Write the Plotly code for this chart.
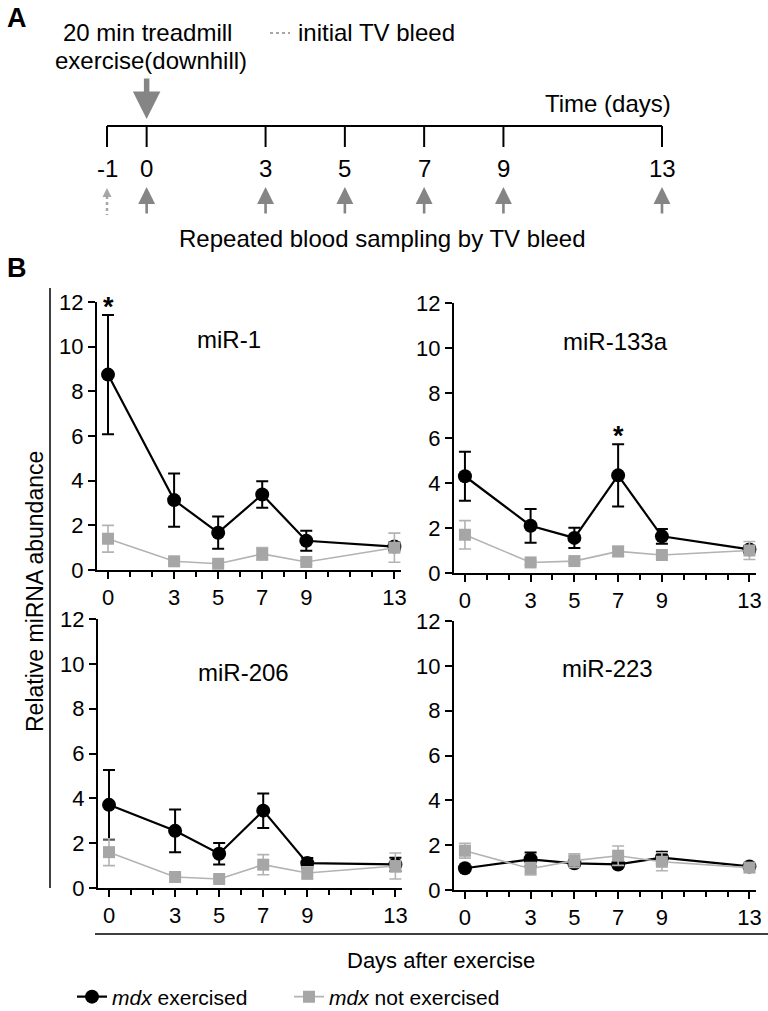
import plotly.graph_objects as go

# ---------------- data ----------------
days = [0, 3, 5, 7, 9, 13]
day_labels = ["0", "3", "5", "7", "9", "13"]
minor_days = list(range(0, 14))
y_ticks = [0, 2, 4, 6, 8, 10, 12]

timeline_days = [-1, 0, 3, 5, 7, 9, 13]
initial_bleed_day = -1
exercise_day = 0

panel_names = ["miR-1", "miR-133a", "miR-206", "miR-223"]

mir1_ex = [8.75, 3.13, 1.67, 3.38, 1.31, 1.05]
mir1_ex_err = [2.67, 1.19, 0.72, 0.59, 0.45, 0.18]
mir1_nex = [1.40, 0.39, 0.28, 0.72, 0.36, 1.00]
mir1_nex_err = [0.60, 0.10, 0.08, 0.28, 0.10, 0.65]

mir133a_ex = [4.30, 2.10, 1.56, 4.34, 1.63, 1.05]
mir133a_ex_err = [1.09, 0.75, 0.45, 1.38, 0.33, 0.15]
mir133a_nex = [1.70, 0.47, 0.53, 0.96, 0.80, 1.00]
mir133a_nex_err = [0.63, 0.10, 0.10, 0.22, 0.12, 0.40]

mir206_ex = [3.71, 2.55, 1.53, 3.45, 1.11, 1.05]
mir206_ex_err = [1.55, 0.95, 0.48, 0.77, 0.23, 0.30]
mir206_nex = [1.60, 0.49, 0.40, 1.04, 0.67, 0.98]
mir206_nex_err = [0.60, 0.10, 0.10, 0.45, 0.28, 0.58]

mir223_ex = [0.97, 1.37, 1.19, 1.14, 1.44, 1.05]
mir223_ex_err = [0.08, 0.30, 0.12, 0.12, 0.27, 0.08]
mir223_nex = [1.75, 0.95, 1.31, 1.53, 1.26, 1.00]
mir223_nex_err = [0.33, 0.28, 0.30, 0.43, 0.40, 0.08]

# significance stars: (panel index, day)
stars = [(0, 0), (1, 7)]

# ---------------- layout helpers ----------------
W, H = 768, 1011
FONT = "Liberation Sans, Arial, sans-serif"
GREY = "#a6a6a6"
GREY_LINE = "#b3b3b3"
ARROW = "#858585"


def X(px):
    return px / W


def Y(py):
    return 1 - py / H


series = [
    (mir1_ex, mir1_ex_err, mir1_nex, mir1_nex_err),
    (mir133a_ex, mir133a_ex_err, mir133a_nex, mir133a_nex_err),
    (mir206_ex, mir206_ex_err, mir206_nex, mir206_nex_err),
    (mir223_ex, mir223_ex_err, mir223_nex, mir223_nex_err),
]

# pixel boxes for each panel: (left, right, top(12), bottom(0))
boxes = [
    (97, 401, 302, 570),
    (454, 756, 303, 573),
    (98, 402, 619, 888),
    (454, 756, 621, 890),
]
title_pos = [(5.5, 10.3), (6.9, 10.3), (6.1, 9.6), (6.5, 9.9)]

fig = go.Figure()
layout = dict()
annotations = []
shapes = []

for i, (name, (ex, exe, nex, nexe)) in enumerate(zip(panel_names, series)):
    s = "" if i == 0 else str(i + 1)
    fig.add_trace(go.Scatter(
        x=days, y=ex, mode="lines+markers",
        error_y=dict(type="data", array=exe, color="black", thickness=2, width=6),
        line=dict(color="black", width=2.2),
        marker=dict(symbol="circle", size=14, color="black"),
        name="<i>mdx</i> exercised", legendgroup="ex", showlegend=(i == 0),
        xaxis="x" + s, yaxis="y" + s, cliponaxis=False, hoverinfo="skip"))
    fig.add_trace(go.Scatter(
        x=days, y=nex, mode="lines+markers",
        error_y=dict(type="data", array=nexe, color=GREY_LINE, thickness=1.6, width=6),
        line=dict(color=GREY_LINE, width=1.6),
        marker=dict(symbol="square", size=12, color=GREY),
        name="<i>mdx</i> not exercised", legendgroup="nex", showlegend=(i == 0),
        xaxis="x" + s, yaxis="y" + s, cliponaxis=False, hoverinfo="skip"))

    l, r, t, b = boxes[i]
    layout["xaxis" + s] = dict(
        domain=[X(l), X(r)], range=[-0.5, 13.3], anchor="y" + s,
        showline=True, linecolor="black", linewidth=2,
        tickmode="array", tickvals=days, ticktext=day_labels,
        ticks="outside", ticklen=7, tickwidth=2, tickcolor="black",
        minor=dict(tickmode="array", tickvals=minor_days, ticks="outside",
                   ticklen=5, tickwidth=1.5, tickcolor="black"),
        showgrid=False, zeroline=False, automargin=False,
        tickfont=dict(family=FONT, size=22, color="black"))
    layout["yaxis" + s] = dict(
        domain=[Y(b), Y(t)], range=[0, 12], anchor="x" + s,
        showline=True, linecolor="black", linewidth=2,
        tickmode="array", tickvals=y_ticks,
        ticks="outside", ticklen=7, tickwidth=2, tickcolor="black",
        showgrid=False, zeroline=False, automargin=False,
        tickfont=dict(family=FONT, size=22, color="black"))
    tx, ty = title_pos[i]
    annotations.append(dict(x=tx, y=ty, xref="x" + s, yref="y" + s, text=name,
                            xanchor="center", yanchor="middle",
                            showarrow=False, font=dict(family=FONT, size=24, color="black")))

for pi, d in stars:
    s = "" if pi == 0 else str(pi + 1)
    ex, exe = series[pi][0], series[pi][1]
    k = days.index(d)
    annotations.append(dict(x=d, y=ex[k] + exe[k] - 0.4, xref="x" + s, yref="y" + s,
                            text="<b>*</b>", showarrow=False, yanchor="bottom", xanchor="center",
                            font=dict(family=FONT, size=27, color="black")))

# ---------------- panel A (timeline) ----------------
pxday = (662 - 107) / 14.0
lo, hi = -1.2, 13.2
layout["xaxis5"] = dict(domain=[X(107 + (lo + 1) * pxday), X(107 + (hi + 1) * pxday)],
                        range=[lo, hi], visible=False, anchor="y5", fixedrange=True)
layout["yaxis5"] = dict(domain=[0, 1], range=[H, 0], visible=False, anchor="x5", fixedrange=True)

TL_Y, TICK_B = 126, 147
tl_x = [timeline_days[0], timeline_days[-1], None]
tl_y = [TL_Y, TL_Y, None]
for d in timeline_days:
    tl_x += [d, d, None]
    tl_y += [TL_Y, TICK_B, None]
fig.add_trace(go.Scatter(x=tl_x, y=tl_y, mode="lines", line=dict(color="black", width=2),
                         xaxis="x5", yaxis="y5", showlegend=False, hoverinfo="skip"))

for d in timeline_days:
    annotations.append(dict(x=d, y=168, xref="x5", yref="y5", text=("-1" if d < 0 else str(d)),
                            xanchor="center", yanchor="middle",
                            showarrow=False, font=dict(family=FONT, size=24, color="black")))

# sampling arrows (up)
for d in timeline_days:
    if d == initial_bleed_day:
        continue
    annotations.append(dict(x=d, y=187, xref="x5", yref="y5", ax=0, ay=28, text="",
                            showarrow=True, arrowhead=2, arrowsize=1.3, arrowwidth=2.6,
                            arrowcolor=ARROW))
# initial bleed: dashed arrow
shapes.append(dict(type="line", xref="x5", yref="y5", x0=initial_bleed_day, x1=initial_bleed_day,
                   y0=196, y1=215, line=dict(color=GREY, width=2.5, dash="dot")))
annotations.append(dict(x=initial_bleed_day, y=188, xref="x5", yref="y5", ax=0, ay=6, text="",
                        showarrow=True, arrowhead=2, arrowsize=0.9, arrowwidth=2,
                        arrowcolor=GREY))
# exercise arrow (down)
annotations.append(dict(x=exercise_day, y=119, xref="x5", yref="y5", ax=0, ay=-42, text="",
                        showarrow=True, arrowhead=2, arrowsize=1.0, arrowwidth=5.5,
                        arrowcolor=ARROW))

# legend of dashed line in panel A
shapes.append(dict(type="line", xref="paper", yref="paper", x0=X(270), x1=X(290),
                   y0=Y(33), y1=Y(33), line=dict(color=GREY, width=2, dash="dot")))


def txt(px, py, text, size=24, xanchor="center", **kw):
    d = dict(x=X(px), y=Y(py), xref="paper", yref="paper", text=text, showarrow=False,
             xanchor=xanchor, yanchor="middle",
             font=dict(family=FONT, size=size, color="black"))
    d.update(kw)
    annotations.append(d)


txt(17, 18, "<b>A</b>", size=27)
txt(17, 268, "<b>B</b>", size=27)
txt(147, 32, "20 min treadmill")
txt(151, 60, "exercise(downhill)")
txt(296, 32, "initial TV bleed", xanchor="left")
txt(608, 103, "Time (days)")
txt(382, 238, "Repeated blood sampling by TV bleed")
txt(35, 592, "Relative miRNA abundance", size=23, textangle=-90)
txt(441, 960, "Days after exercise", size=22)

# frame lines of panel B
shapes.append(dict(type="line", xref="paper", yref="paper", x0=X(50), x1=X(50),
                   y0=Y(288), y1=Y(888), line=dict(color="black", width=1.5)))
shapes.append(dict(type="line", xref="paper", yref="paper", x0=X(95), x1=X(768),
                   y0=Y(934), y1=Y(934), line=dict(color="black", width=1.5)))

fig.update_layout(
    width=W, height=H, margin=dict(l=0, r=0, t=0, b=0, pad=0, autoexpand=False),
    paper_bgcolor="white", plot_bgcolor="rgba(0,0,0,0)",
    font=dict(family=FONT, color="black"),
    annotations=annotations, shapes=shapes,
    legend=dict(orientation="h", x=X(72), y=Y(997), xanchor="left", yanchor="middle",
                font=dict(family=FONT, size=21, color="black"),
                entrywidth=172, entrywidthmode="pixels",
                bgcolor="rgba(0,0,0,0)", itemwidth=30, tracegroupgap=0),
    **layout,
)

fig.write_html("out.html", config={"displayModeBar": False},
               post_script="document.body.style.margin='0';")
